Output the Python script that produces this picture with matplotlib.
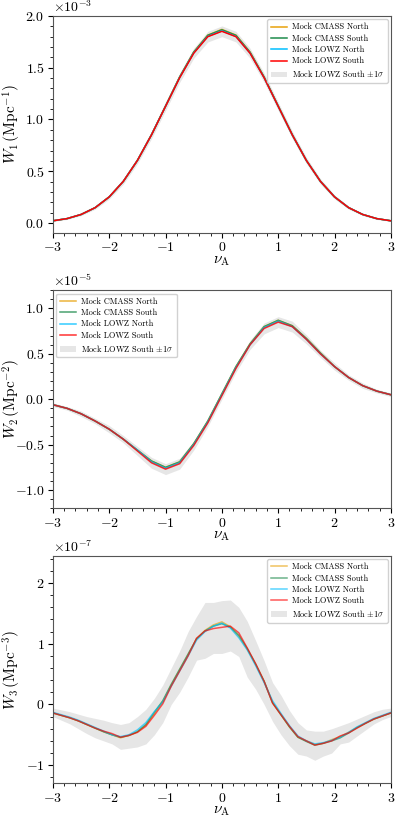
import numpy as np
import matplotlib
matplotlib.use("Agg")
import matplotlib.pyplot as plt
from matplotlib.ticker import AutoMinorLocator

plt.rcParams["font.family"] = "serif"
plt.rcParams["font.serif"] = ["cmr10"]
plt.rcParams["mathtext.fontset"] = "cm"
plt.rcParams["axes.formatter.use_mathtext"] = True
plt.rcParams["font.size"] = 10

# ---- data: W1 (x 1e-3), nu step 0.25
nu_12 = [-3.0, -2.75, -2.5, -2.25, -2.0, -1.75, -1.5, -1.25, -1.0, -0.75, -0.5, -0.25, 0.0,
         0.25, 0.5, 0.75, 1.0, 1.25, 1.5, 1.75, 2.0, 2.25, 2.5, 2.75, 3.0]
w1_cmass_n = [0.021, 0.042, 0.082, 0.148, 0.252, 0.402, 0.604, 0.852, 1.130, 1.410, 1.652, 1.815, 1.870,
              1.815, 1.652, 1.410, 1.130, 0.852, 0.604, 0.402, 0.252, 0.148, 0.082, 0.042, 0.021]
w1_cmass_s = [0.021, 0.042, 0.082, 0.148, 0.252, 0.402, 0.604, 0.852, 1.130, 1.410, 1.650, 1.813, 1.866,
              1.812, 1.649, 1.409, 1.129, 0.852, 0.604, 0.402, 0.252, 0.148, 0.082, 0.042, 0.021]
w1_lowz_n = [0.021, 0.042, 0.082, 0.148, 0.252, 0.402, 0.604, 0.852, 1.128, 1.405, 1.643, 1.803, 1.856,
             1.802, 1.642, 1.404, 1.127, 0.851, 0.604, 0.402, 0.252, 0.148, 0.082, 0.042, 0.021]
w1_lowz_s = [0.021, 0.042, 0.082, 0.148, 0.252, 0.402, 0.604, 0.851, 1.127, 1.403, 1.640, 1.800, 1.852,
             1.800, 1.640, 1.403, 1.127, 0.851, 0.604, 0.402, 0.252, 0.148, 0.082, 0.042, 0.021]
w1_sig = [0.006, 0.008, 0.011, 0.015, 0.020, 0.026, 0.031, 0.036, 0.040, 0.044, 0.048, 0.051, 0.052,
          0.051, 0.048, 0.044, 0.040, 0.036, 0.031, 0.026, 0.020, 0.015, 0.011, 0.008, 0.006]

# ---- W2 (x 1e-5)
w2_cmass_n = [-0.06, -0.10, -0.16, -0.24, -0.33, -0.44, -0.56, -0.68, -0.75, -0.69, -0.49, -0.24, 0.06,
              0.36, 0.61, 0.80, 0.87, 0.81, 0.67, 0.51, 0.36, 0.24, 0.15, 0.09, 0.05]
w2_cmass_s = [-0.06, -0.10, -0.16, -0.24, -0.33, -0.44, -0.56, -0.68, -0.75, -0.69, -0.49, -0.24, 0.06,
              0.36, 0.61, 0.80, 0.87, 0.81, 0.67, 0.51, 0.36, 0.24, 0.15, 0.09, 0.05]
w2_lowz_n = [-0.06, -0.10, -0.16, -0.24, -0.33, -0.44, -0.56, -0.69, -0.76, -0.70, -0.50, -0.25, 0.05,
             0.35, 0.60, 0.79, 0.86, 0.80, 0.66, 0.50, 0.36, 0.24, 0.15, 0.09, 0.05]
w2_lowz_s = [-0.06, -0.10, -0.16, -0.24, -0.33, -0.44, -0.57, -0.70, -0.77, -0.71, -0.51, -0.26, 0.04,
             0.34, 0.60, 0.78, 0.85, 0.80, 0.66, 0.50, 0.36, 0.24, 0.15, 0.09, 0.05]
w2_sig = [0.02, 0.02, 0.03, 0.03, 0.04, 0.04, 0.05, 0.06, 0.06, 0.06, 0.05, 0.04, 0.04,
          0.04, 0.05, 0.06, 0.06, 0.06, 0.05, 0.04, 0.04, 0.03, 0.03, 0.02, 0.02]

# ---- W3 (x 1e-7), nu step 0.15
nu_3 = [-3.0, -2.85, -2.7, -2.55, -2.4, -2.25, -2.1, -1.95, -1.8, -1.65, -1.5, -1.35, -1.2, -1.05,
        -0.9, -0.75, -0.6, -0.45, -0.3, -0.15, 0.0, 0.15, 0.3, 0.45, 0.6, 0.75, 0.9, 1.05, 1.2, 1.35,
        1.5, 1.65, 1.8, 1.95, 2.1, 2.25, 2.4, 2.55, 2.7, 2.85, 3.0]
w3_cmass_n = [-0.14, -0.18, -0.22, -0.27, -0.33, -0.39, -0.45, -0.50, -0.55, -0.51, -0.45, -0.34, -0.15, 0.05,
              0.32, 0.57, 0.82, 1.08, 1.22, 1.31, 1.36, 1.28, 1.12, 0.91, 0.66, 0.38, 0.03, -0.17, -0.37, -0.54,
              -0.60, -0.66, -0.64, -0.58, -0.53, -0.46, -0.38, -0.31, -0.24, -0.19, -0.14]
w3_cmass_s = [-0.14, -0.18, -0.22, -0.27, -0.33, -0.39, -0.45, -0.50, -0.54, -0.51, -0.45, -0.33, -0.13, 0.06,
              0.33, 0.58, 0.83, 1.08, 1.21, 1.29, 1.33, 1.27, 1.14, 0.92, 0.66, 0.38, 0.03, -0.17, -0.37, -0.54,
              -0.61, -0.67, -0.64, -0.60, -0.55, -0.47, -0.38, -0.31, -0.24, -0.19, -0.14]
w3_lowz_n = [-0.13, -0.17, -0.21, -0.26, -0.32, -0.38, -0.44, -0.50, -0.53, -0.50, -0.42, -0.30, -0.12, 0.04,
             0.30, 0.55, 0.80, 1.06, 1.20, 1.29, 1.34, 1.26, 1.10, 0.90, 0.64, 0.36, 0.06, -0.15, -0.35, -0.52,
             -0.60, -0.65, -0.63, -0.59, -0.54, -0.46, -0.37, -0.30, -0.23, -0.18, -0.13]
w3_lowz_s = [-0.14, -0.18, -0.22, -0.27, -0.33, -0.39, -0.44, -0.48, -0.54, -0.51, -0.46, -0.36, -0.18, 0.01,
             0.30, 0.55, 0.80, 1.09, 1.21, 1.25, 1.27, 1.29, 1.18, 0.93, 0.67, 0.38, 0.02, -0.17, -0.36, -0.53,
             -0.60, -0.67, -0.64, -0.60, -0.52, -0.47, -0.39, -0.31, -0.24, -0.19, -0.14]
w3_upper = [-0.06, -0.09, -0.12, -0.16, -0.20, -0.23, -0.26, -0.30, -0.33, -0.30, -0.20, -0.08, 0.10, 0.32,
            0.60, 0.88, 1.20, 1.45, 1.68, 1.68, 1.71, 1.72, 1.60, 1.37, 1.05, 0.72, 0.36, 0.15, -0.10, -0.30,
            -0.42, -0.44, -0.44, -0.40, -0.35, -0.30, -0.24, -0.18, -0.12, -0.08, -0.06]
w3_lower = [-0.20, -0.26, -0.32, -0.40, -0.48, -0.55, -0.60, -0.65, -0.74, -0.72, -0.70, -0.65, -0.50, -0.30,
            0.00, 0.20, 0.45, 0.73, 0.76, 0.84, 0.84, 0.88, 0.79, 0.45, 0.25, 0.00, -0.28, -0.50, -0.68, -0.82,
            -0.85, -0.92, -0.85, -0.80, -0.65, -0.62, -0.52, -0.42, -0.32, -0.25, -0.20]

names = ["Mock CMASS North", "Mock CMASS South", "Mock LOWZ North", "Mock LOWZ South"]
colors = ["#E8A20C", "#1E8B4C", "#00BFFF", "#FF0000"]


def panel(ax, x, series, lo, hi, scale, alpha, ylabel, loc):
    x = np.array(x)
    for s, n, c in zip(series, names, colors):
        ax.plot(x, np.array(s) * scale, color=c, lw=1.1, alpha=alpha, label=n)
    ax.fill_between(x, np.array(lo) * scale, np.array(hi) * scale, color="#e6e6e6", lw=0,
                    label=r"Mock LOWZ South $\pm1\sigma$", zorder=0)
    ax.set_xlim(-3, 3)
    ax.set_xlabel(r"$\nu_\mathrm{A}$", fontsize=11, labelpad=0)
    ax.set_ylabel(ylabel, fontsize=11)
    ax.yaxis.set_label_coords(-0.088, 0.5)
    ax.ticklabel_format(axis="y", style="sci", scilimits=(0, 0))
    ax.xaxis.set_minor_locator(AutoMinorLocator(5))
    ax.yaxis.set_minor_locator(AutoMinorLocator(5))
    ax.tick_params(which="major", length=3.5, width=0.8, pad=2.5)
    ax.tick_params(which="minor", length=2, width=0.6)
    for sp in ax.spines.values():
        sp.set_color("#555555")
    ax.legend(loc=loc, fontsize=6.0, handlelength=1.9, handletextpad=0.6, labelspacing=0.35,
              borderpad=0.45, borderaxespad=0.4, framealpha=0.9)


fig = plt.figure(figsize=(3.98, 8.19), dpi=100)
ax1 = fig.add_axes([0.133, 0.7155, 0.849, 0.265])
ax2 = fig.add_axes([0.133, 0.3795, 0.849, 0.266])
ax3 = fig.add_axes([0.133, 0.0435, 0.849, 0.278])

w1_lo = np.array(w1_lowz_s) - np.array(w1_sig)
w1_hi = np.array(w1_lowz_s) + np.array(w1_sig)
panel(ax1, nu_12, [w1_cmass_n, w1_cmass_s, w1_lowz_n, w1_lowz_s], w1_lo, w1_hi, 1e-3, 1.0,
      r"$W_1\,(\mathrm{Mpc}^{-1})$", "upper right")
ax1.set_ylim(-0.097e-3, 2.0e-3)
ax1.set_yticks([0, 0.5e-3, 1.0e-3, 1.5e-3, 2.0e-3])

w2_lo = np.array(w2_lowz_s) - np.array(w2_sig)
w2_hi = np.array(w2_lowz_s) + np.array(w2_sig)
panel(ax2, nu_12, [w2_cmass_n, w2_cmass_s, w2_lowz_n, w2_lowz_s], w2_lo, w2_hi, 1e-5, 0.8,
      r"$W_2\,(\mathrm{Mpc}^{-2})$", "upper left")
ax2.set_ylim(-1.2e-5, 1.2e-5)
ax2.set_yticks([-1.0e-5, -0.5e-5, 0, 0.5e-5, 1.0e-5])

panel(ax3, nu_3, [w3_cmass_n, w3_cmass_s, w3_lowz_n, w3_lowz_s], w3_lower, w3_upper, 1e-7, 0.65,
      r"$W_3\,(\mathrm{Mpc}^{-3})$", "upper right")
ax3.set_ylim(-1.3e-7, 2.45e-7)
ax3.set_yticks([-1e-7, 0, 1e-7, 2e-7])

fig.savefig("out.png", dpi=100)
